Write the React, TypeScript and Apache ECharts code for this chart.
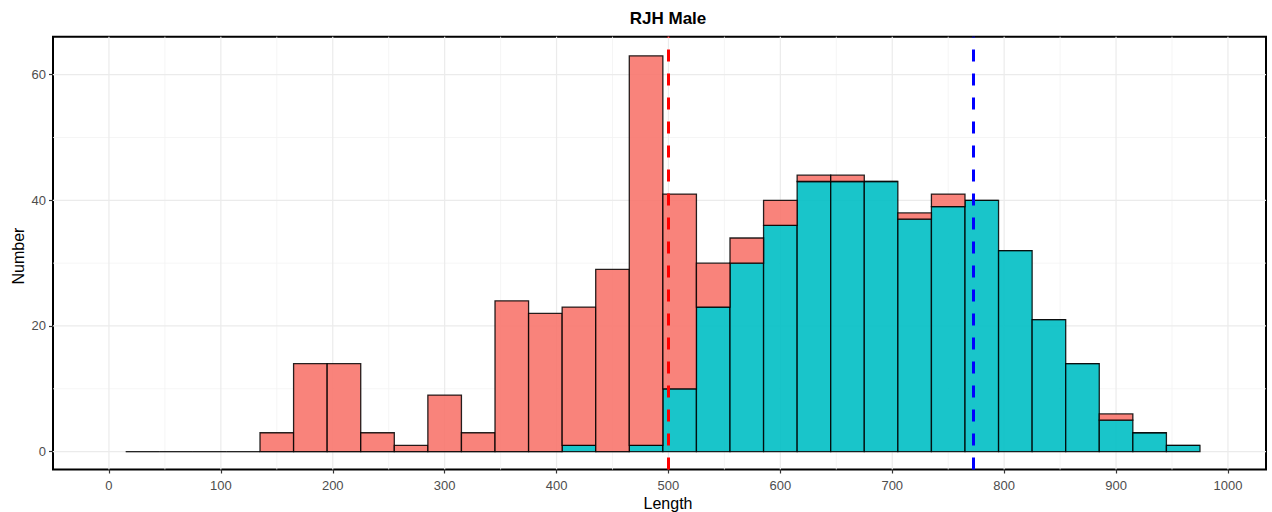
import React, { useEffect, useRef } from "react";
import * as echarts from "echarts";

// Histogram bins (30-unit wide), centres on the Length axis
const binCenters = [
  30, 60, 90, 120, 150, 180, 210, 240, 270, 300, 330, 360, 390, 420, 450, 480,
  510, 540, 570, 600, 630, 660, 690, 720, 750, 780, 810, 840, 870, 900, 930, 960,
];
const binWidth = 30;

// Counts per bin: teal group sits at the bottom, red group stacked on top
const tealCounts = [
  0, 0, 0, 0, 0, 0, 0, 0, 0, 0, 0, 0, 0, 1, 0, 1,
  10, 23, 30, 36, 43, 43, 43, 37, 39, 40, 32, 21, 14, 5, 3, 1,
];
const redCounts = [
  0, 0, 0, 0, 3, 14, 14, 3, 1, 9, 3, 24, 22, 22, 29, 62,
  31, 7, 4, 4, 1, 1, 0, 1, 2, 0, 0, 0, 0, 1, 0, 0,
];

// Reference lines
const refLineValues = [500, 772];
const refLineColors = ["#FF0000", "#0000FF"];

// Axis ticks and grid
const xTicks = [0, 100, 200, 300, 400, 500, 600, 700, 800, 900, 1000];
const xMinor = [50, 150, 250, 350, 450, 550, 650, 750, 850, 950];
const yTicks = [0, 20, 40, 60];
const yMinor = [10, 30, 50];

const X_MIN = -50;
const X_MAX = 1034;
const Y_MIN = -2.85;
const Y_MAX = 66.05;

const FONT = "Liberation Sans";

export default function App() {
  const ref = useRef<HTMLDivElement>(null);

  useEffect(() => {
    document.body.style.margin = "0";
    if (!ref.current) return;
    const chart = echarts.init(ref.current, null, { renderer: "svg" });

    const tealData = binCenters.map((c, i) => [c - binWidth / 2, c + binWidth / 2, 0, tealCounts[i]]);
    const redData = binCenters.map((c, i) => [
      c - binWidth / 2,
      c + binWidth / 2,
      tealCounts[i],
      tealCounts[i] + redCounts[i],
    ]);

    // gridline rows: [isVertical, value, isMajor]
    const gridData = [
      ...xMinor.map((v) => [1, v, 0]),
      ...yMinor.map((v) => [0, v, 0]),
      ...xTicks.map((v) => [1, v, 1]),
      ...yTicks.map((v) => [0, v, 1]),
    ];

    const barRender = (fill: string) => (params: any, api: any) => {
      const x0 = api.value(0);
      const x1 = api.value(1);
      const y0 = api.value(2);
      const y1 = api.value(3);
      const p0 = api.coord([x0, y1]);
      const p1 = api.coord([x1, y0]);
      const h = p1[1] - p0[1];
      if (h < 0.5) {
        return {
          type: "line",
          shape: { x1: p0[0], y1: p1[1], x2: p1[0], y2: p1[1] },
          style: { stroke: "rgba(0,0,0,0.6)", lineWidth: 1.3 },
        };
      }
      return {
        type: "rect",
        shape: { x: p0[0], y: p0[1], width: p1[0] - p0[0], height: h },
        style: { fill, stroke: "rgba(0,0,0,0.85)", lineWidth: 1.3 },
      };
    };

    chart.setOption({
      animation: false,
      graphic: [
        {
          type: "text",
          x: 668,
          y: 18.5,
          style: {
            text: "RJH Male",
            font: `bold 17px "${FONT}"`,
            fill: "#000",
            textAlign: "center",
            textVerticalAlign: "middle",
          },
        },
        {
          type: "text",
          x: 668,
          y: 503,
          style: {
            text: "Length",
            font: `16px "${FONT}"`,
            fill: "#000",
            textAlign: "center",
            textVerticalAlign: "middle",
          },
        },
        {
          type: "text",
          x: 18.5,
          y: 256,
          rotation: Math.PI / 2,
          style: {
            text: "Number",
            font: `16px "${FONT}"`,
            fill: "#000",
            textAlign: "center",
            textVerticalAlign: "middle",
          },
        },
      ],
      grid: {
        left: 53,
        right: 6,
        top: 36.7,
        bottom: 42.5,
        show: true,
        borderColor: "#000",
        borderWidth: 2,
        backgroundColor: "transparent",
      },
      xAxis: {
        type: "value",
        min: X_MIN,
        max: X_MAX,
        axisLine: { show: false, onZero: false },
        splitLine: { show: false },
        axisTick: {
          show: true,
          length: 4,
          lineStyle: { color: "#333333", width: 1.2 },
          customValues: xTicks,
        },
        axisLabel: {
          customValues: xTicks,
          formatter: (v: number) => String(v),
          color: "#4D4D4D",
          fontSize: 13,
          fontFamily: FONT,
          margin: 9,
        },
      },
      yAxis: {
        type: "value",
        min: Y_MIN,
        max: Y_MAX,
        axisLine: { show: false, onZero: false },
        splitLine: { show: false },
        axisTick: {
          show: true,
          length: 4,
          lineStyle: { color: "#333333", width: 1.2 },
          customValues: yTicks,
        },
        axisLabel: {
          customValues: yTicks,
          formatter: (v: number) => String(v),
          color: "#4D4D4D",
          fontSize: 13,
          fontFamily: FONT,
          margin: 7,
        },
      },
      series: [
        {
          type: "custom",
          name: "grid",
          silent: true,
          z: 0,
          renderItem: (params: any, api: any) => {
            const vertical = api.value(0) === 1;
            const v = api.value(1);
            const major = api.value(2) === 1;
            const a = vertical ? api.coord([v, Y_MIN]) : api.coord([X_MIN, v]);
            const b = vertical ? api.coord([v, Y_MAX]) : api.coord([X_MAX, v]);
            return {
              type: "line",
              shape: { x1: a[0], y1: a[1], x2: b[0], y2: b[1] },
              style: { stroke: major ? "#EBEBEB" : "#F3F3F3", lineWidth: major ? 1.2 : 0.8 },
            };
          },
          encode: { x: 1, y: 1 },
          data: gridData,
        },
        {
          type: "custom",
          name: "teal",
          z: 2,
          renderItem: barRender("rgba(0,191,196,0.9)"),
          encode: { x: [0, 1], y: [2, 3] },
          data: tealData,
        },
        {
          type: "custom",
          name: "red",
          z: 3,
          renderItem: barRender("rgba(248,118,109,0.9)"),
          encode: { x: [0, 1], y: [2, 3] },
          data: redData,
        },
        {
          type: "custom",
          name: "refLines",
          z: 4,
          renderItem: (params: any, api: any) => {
            const v = api.value(0);
            const bottom = api.coord([v, Y_MIN]);
            const top = api.coord([v, Y_MAX]);
            const x = Math.round(bottom[0]) + 0.5;
            return {
              type: "line",
              shape: { x1: x, y1: bottom[1], x2: x, y2: top[1] },
              style: {
                stroke: refLineColors[params.dataIndex],
                lineWidth: 3,
                lineDash: [12, 12],
                opacity: 1,
              },
            };
          },
          encode: { x: 0 },
          data: refLineValues.map((v) => [v]),
        },
      ],
    });

    return () => chart.dispose();
  }, []);

  return <div ref={ref} style={{ width: 1272, height: 512 }} />;
}
